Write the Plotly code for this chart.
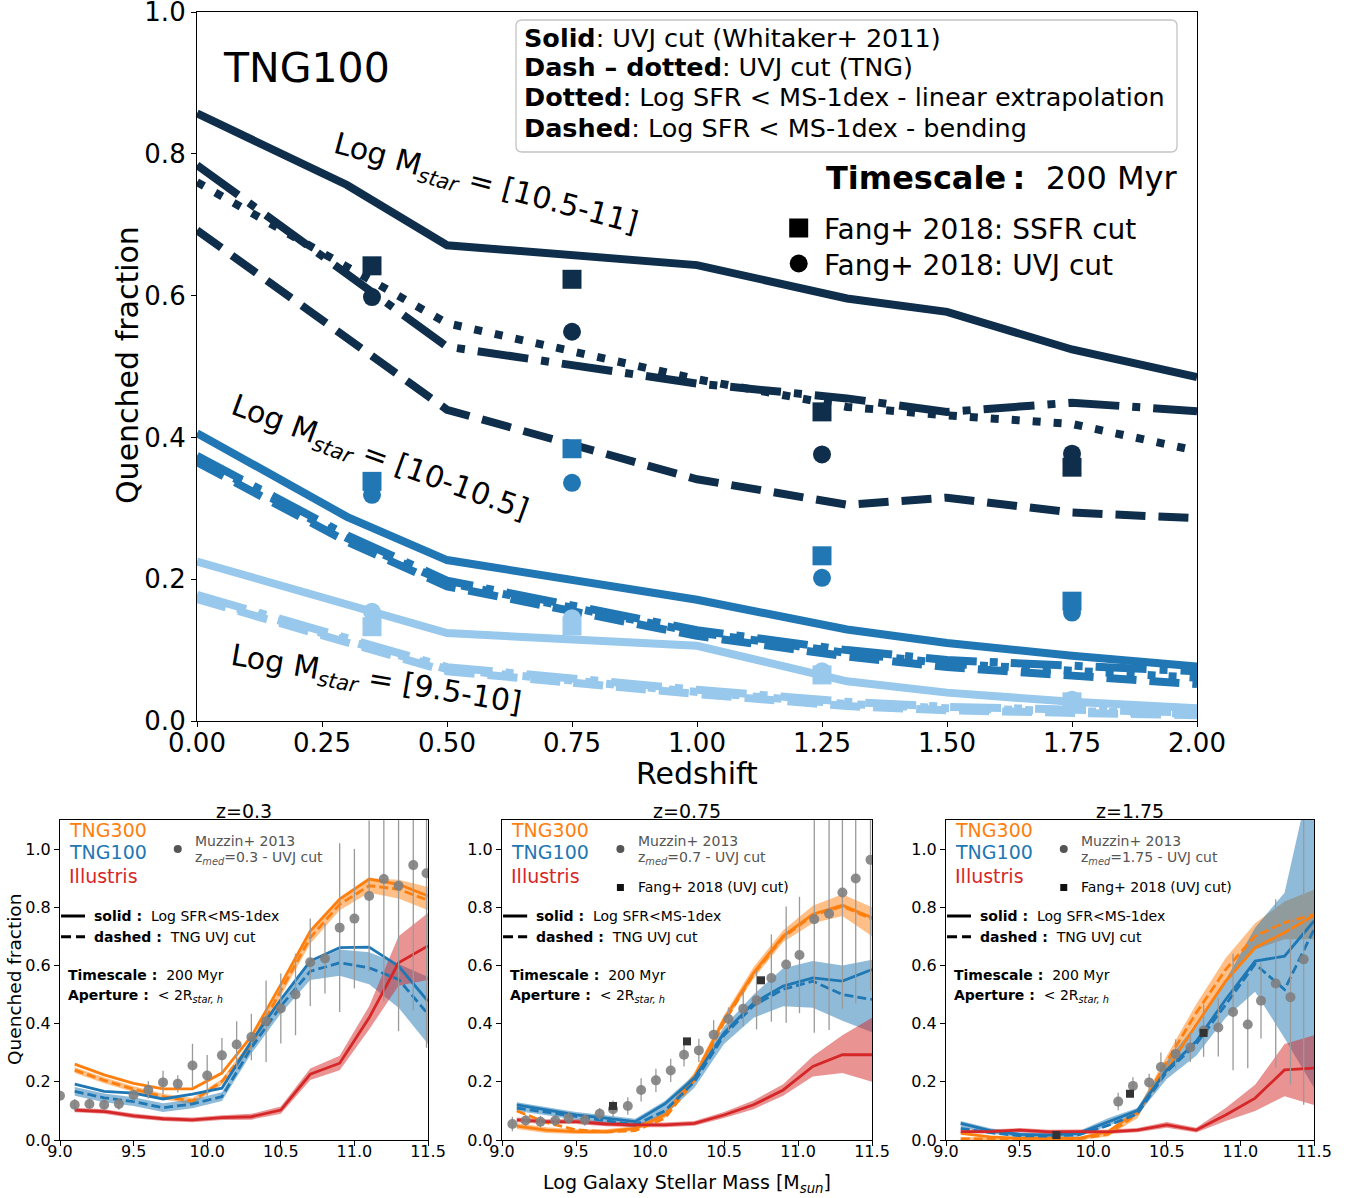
import plotly.graph_objects as go

W, H = 1358, 1198

# ---------------- main panel data (TNG100, quenched fraction vs redshift) ----------------
redshift = [0.0, 0.3, 0.5, 1.0, 1.3, 1.5, 1.75, 2.0]

hi_solid = [0.857, 0.756, 0.671, 0.643, 0.596, 0.577, 0.524, 0.485]
hi_dashdot = [0.784, 0.630, 0.528, 0.476, 0.455, 0.436, 0.449, 0.437]
hi_dotted = [0.760, 0.641, 0.561, 0.482, 0.443, 0.431, 0.419, 0.381]
hi_dashed = [0.692, 0.540, 0.439, 0.341, 0.305, 0.315, 0.294, 0.286]

mid_solid = [0.406, 0.288, 0.227, 0.171, 0.129, 0.110, 0.092, 0.077]
mid_dashdot = [0.374, 0.262, 0.198, 0.128, 0.100, 0.086, 0.078, 0.070]
mid_dotted = [0.370, 0.258, 0.195, 0.125, 0.096, 0.081, 0.071, 0.061]
mid_dashed = [0.365, 0.253, 0.190, 0.120, 0.091, 0.076, 0.064, 0.052]

lo_solid = [0.225, 0.164, 0.124, 0.106, 0.056, 0.040, 0.027, 0.018]
lo_dashdot = [0.178, 0.117, 0.076, 0.044, 0.027, 0.020, 0.016, 0.012]
lo_dotted = [0.175, 0.114, 0.073, 0.041, 0.024, 0.018, 0.013, 0.010]
lo_dashed = [0.172, 0.110, 0.070, 0.038, 0.021, 0.015, 0.011, 0.008]

fang_z = [0.35, 0.75, 1.25, 1.75]
hi_fang_ssfr = [0.642, 0.623, 0.436, 0.358]
hi_fang_uvj = [0.598, 0.549, 0.376, 0.377]
mid_fang_ssfr = [0.338, 0.384, 0.233, 0.169]
mid_fang_uvj = [0.319, 0.336, 0.202, 0.153]
lo_fang_ssfr = [0.133, 0.134, 0.065, 0.027]
lo_fang_uvj = [0.154, 0.145, 0.070, 0.030]

redshift_ticks = [0.0, 0.25, 0.5, 0.75, 1.0, 1.25, 1.5, 1.75, 2.0]
fraction_ticks = [0.0, 0.2, 0.4, 0.6, 0.8, 1.0]
mass_ticks = [9.0, 9.5, 10.0, 10.5, 11.0, 11.5]

# ---------------- bottom panels data (quenched fraction vs stellar mass) ----------------
mass = [9.1, 9.3, 9.5, 9.7, 9.9, 10.1, 10.3, 10.5, 10.7, 10.9, 11.1, 11.3, 11.5]

# z = 0.3
tng300_sfr_z03 = [0.261, 0.224, 0.195, 0.176, 0.176, 0.230, 0.356, 0.534, 0.718, 0.828, 0.897, 0.879, 0.839]
tng300_uvj_z03 = [0.240, 0.205, 0.175, 0.149, 0.134, 0.201, 0.330, 0.510, 0.695, 0.810, 0.874, 0.862, 0.824]
tng300_lo_z03 = [0.230, 0.195, 0.165, 0.139, 0.124, 0.190, 0.315, 0.495, 0.675, 0.790, 0.850, 0.830, 0.790]
tng300_hi_z03 = [0.250, 0.215, 0.185, 0.159, 0.144, 0.210, 0.345, 0.525, 0.715, 0.830, 0.900, 0.895, 0.870]
tng100_sfr_z03 = [0.192, 0.167, 0.161, 0.141, 0.158, 0.178, 0.339, 0.483, 0.615, 0.661, 0.663, 0.598, 0.477]
tng100_uvj_z03 = [0.167, 0.145, 0.132, 0.111, 0.124, 0.149, 0.317, 0.460, 0.580, 0.609, 0.592, 0.552, 0.433]
tng100_lo_z03 = [0.152, 0.130, 0.117, 0.096, 0.109, 0.134, 0.297, 0.435, 0.550, 0.565, 0.535, 0.455, 0.330]
tng100_hi_z03 = [0.182, 0.160, 0.147, 0.126, 0.139, 0.164, 0.337, 0.485, 0.610, 0.655, 0.645, 0.605, 0.560]
ill_sfr_z03 = [0.103, 0.098, 0.083, 0.073, 0.069, 0.077, 0.080, 0.103, 0.226, 0.264, 0.420, 0.609, 0.667]
ill_lo_z03 = [0.095, 0.090, 0.075, 0.065, 0.061, 0.069, 0.070, 0.090, 0.206, 0.240, 0.380, 0.530, 0.550]
ill_hi_z03 = [0.111, 0.106, 0.091, 0.081, 0.077, 0.085, 0.090, 0.115, 0.246, 0.290, 0.460, 0.700, 0.780]
muzzin_m_z03 = [9.0, 9.1, 9.2, 9.3, 9.4, 9.5, 9.6, 9.7, 9.8, 9.9, 10.0, 10.1, 10.2, 10.3, 10.4,
                10.5, 10.6, 10.7, 10.8, 10.9, 11.0, 11.1, 11.2, 11.3, 11.4, 11.49]
muzzin_f_z03 = [0.152, 0.121, 0.124, 0.121, 0.124, 0.155, 0.172, 0.198, 0.193, 0.256, 0.222, 0.291, 0.328,
                0.354, 0.408, 0.452, 0.500, 0.611, 0.624, 0.730, 0.761, 0.839, 0.897, 0.874, 0.945, 0.917]
muzzin_e_z03 = [0.0, 0.02, 0.02, 0.02, 0.02, 0.02, 0.03, 0.04, 0.03, 0.075, 0.07, 0.06, 0.08, 0.08, 0.14,
                0.12, 0.14, 0.15, 0.12, 0.29, 0.24, 0.26, 0.42, 0.5, 0.5, 0.6]

# z = 0.75
tng300_sfr_z075 = [0.048, 0.034, 0.029, 0.029, 0.040, 0.086, 0.218, 0.414, 0.575, 0.701, 0.776, 0.807, 0.764]
tng300_uvj_z075 = [0.100, 0.060, 0.035, 0.028, 0.032, 0.075, 0.205, 0.405, 0.570, 0.697, 0.772, 0.803, 0.760]
tng300_lo_z075 = [0.038, 0.024, 0.021, 0.021, 0.032, 0.076, 0.203, 0.399, 0.555, 0.681, 0.745, 0.770, 0.700]
tng300_hi_z075 = [0.058, 0.044, 0.037, 0.037, 0.048, 0.096, 0.233, 0.429, 0.595, 0.721, 0.805, 0.845, 0.800]
tng100_sfr_z075 = [0.121, 0.103, 0.086, 0.075, 0.063, 0.124, 0.213, 0.368, 0.471, 0.529, 0.557, 0.546, 0.586]
tng100_uvj_z075 = [0.110, 0.095, 0.080, 0.065, 0.052, 0.100, 0.200, 0.360, 0.462, 0.518, 0.546, 0.500, 0.483]
tng100_lo_z075 = [0.100, 0.085, 0.070, 0.055, 0.042, 0.085, 0.180, 0.330, 0.420, 0.460, 0.455, 0.410, 0.370]
tng100_hi_z075 = [0.130, 0.113, 0.096, 0.085, 0.073, 0.134, 0.225, 0.390, 0.500, 0.590, 0.615, 0.600, 0.620]
ill_sfr_z075 = [0.069, 0.063, 0.063, 0.055, 0.052, 0.052, 0.057, 0.086, 0.121, 0.172, 0.253, 0.293, 0.293]
ill_lo_z075 = [0.061, 0.055, 0.055, 0.047, 0.044, 0.044, 0.049, 0.076, 0.106, 0.152, 0.218, 0.230, 0.200]
ill_hi_z075 = [0.077, 0.071, 0.071, 0.063, 0.060, 0.060, 0.065, 0.096, 0.136, 0.192, 0.288, 0.360, 0.420]
muzzin_m_z075 = [9.07, 9.16, 9.26, 9.36, 9.45, 9.56, 9.66, 9.75, 9.85, 9.94, 10.04, 10.14, 10.23, 10.33,
                 10.43, 10.53, 10.63, 10.72, 10.82, 10.92, 11.01, 11.11, 11.21, 11.30, 11.39, 11.49]
muzzin_f_z075 = [0.055, 0.067, 0.063, 0.067, 0.075, 0.069, 0.090, 0.106, 0.117, 0.172, 0.205, 0.239, 0.293,
                 0.308, 0.362, 0.416, 0.451, 0.480, 0.557, 0.603, 0.636, 0.759, 0.778, 0.851, 0.899, 0.963]
muzzin_e_z075 = [0.025, 0.02, 0.02, 0.02, 0.02, 0.02, 0.02, 0.03, 0.03, 0.04, 0.04, 0.04, 0.04, 0.04, 0.05,
                 0.04, 0.06, 0.1, 0.15, 0.2, 0.2, 0.39, 0.4, 0.4, 0.43, 0.45]
fang_m_z075 = [9.75, 10.25, 10.75]
fang_f_z075 = [0.117, 0.339, 0.549]

# z = 1.75
tng300_sfr_z175 = [0.023, 0.011, 0.006, 0.006, 0.006, 0.029, 0.098, 0.241, 0.397, 0.546, 0.661, 0.713, 0.772]
tng300_uvj_z175 = [0.004, 0.003, 0.002, 0.002, 0.003, 0.020, 0.090, 0.270, 0.437, 0.586, 0.701, 0.747, 0.775]
tng300_lo_z175 = [0.000, 0.000, 0.000, 0.000, 0.000, 0.012, 0.075, 0.250, 0.407, 0.546, 0.655, 0.690, 0.690]
tng300_hi_z175 = [0.010, 0.008, 0.007, 0.007, 0.008, 0.030, 0.105, 0.290, 0.467, 0.626, 0.745, 0.820, 0.860]
tng100_sfr_z175 = [0.057, 0.032, 0.019, 0.017, 0.023, 0.063, 0.101, 0.241, 0.339, 0.483, 0.615, 0.632, 0.753]
tng100_uvj_z175 = [0.040, 0.025, 0.015, 0.013, 0.018, 0.050, 0.090, 0.235, 0.330, 0.465, 0.605, 0.517, 0.724]
tng100_lo_z175 = [0.045, 0.022, 0.010, 0.008, 0.012, 0.048, 0.085, 0.210, 0.290, 0.420, 0.510, 0.350, 0.180]
tng100_hi_z175 = [0.065, 0.040, 0.026, 0.024, 0.030, 0.075, 0.110, 0.270, 0.400, 0.550, 0.730, 0.850, 1.300]
ill_sfr_z175 = [0.029, 0.029, 0.034, 0.028, 0.029, 0.028, 0.034, 0.052, 0.034, 0.086, 0.144, 0.241, 0.247]
ill_lo_z175 = [0.022, 0.022, 0.027, 0.021, 0.022, 0.021, 0.027, 0.042, 0.026, 0.065, 0.100, 0.150, 0.120]
ill_hi_z175 = [0.036, 0.036, 0.041, 0.035, 0.036, 0.035, 0.041, 0.062, 0.042, 0.110, 0.190, 0.330, 0.360]
muzzin_m_z175 = [10.17, 10.27, 10.38, 10.46, 10.56, 10.66, 10.75, 10.85, 10.95, 11.05, 11.14, 11.24, 11.34, 11.43]
muzzin_f_z175 = [0.132, 0.186, 0.198, 0.251, 0.296, 0.318, 0.376, 0.387, 0.440, 0.397, 0.479, 0.538, 0.491, 0.621]
muzzin_e_z175 = [0.03, 0.03, 0.03, 0.05, 0.05, 0.05, 0.09, 0.1, 0.2, 0.15, 0.13, 0.29, 0.3, 0.5]
fang_m_z175 = [9.75, 10.25, 10.75]
fang_f_z175 = [0.017, 0.159, 0.368]

# ---------------- styling ----------------
C_HI, C_MID, C_LO = "#0e2e4b", "#2176b4", "#98c8ec"
ORANGE, BLUE, RED = "#ff7f0e", "#1f77b4", "#d62728"
LW = 8
DASH = {"solid": "solid", "dashdot": "51px,13px,8px,13px", "dotted": "8px,13px", "dashed": "30px,13px"}
FONT = "DejaVu Sans"

fig = go.Figure()


def px_x(px):
    return px / W


def px_y(py):
    return 1 - py / H


# main panel lines
groups = [
    (C_HI, hi_solid, hi_dashdot, hi_dotted, hi_dashed, hi_fang_ssfr, hi_fang_uvj),
    (C_MID, mid_solid, mid_dashdot, mid_dotted, mid_dashed, mid_fang_ssfr, mid_fang_uvj),
    (C_LO, lo_solid, lo_dashdot, lo_dotted, lo_dashed, lo_fang_ssfr, lo_fang_uvj),
]
for col, s, dd, dt, ds, fs, fu in groups:
    for vals, key in [(s, "solid"), (dd, "dashdot"), (dt, "dotted"), (ds, "dashed")]:
        fig.add_trace(go.Scatter(x=redshift, y=vals, mode="lines", xaxis="x", yaxis="y",
                                 line=dict(color=col, width=LW, dash=DASH[key])))
for col, s, dd, dt, ds, fs, fu in groups:
    fig.add_trace(go.Scatter(x=fang_z, y=fu, mode="markers", xaxis="x", yaxis="y",
                             marker=dict(symbol="circle", size=18, color=col)))
    fig.add_trace(go.Scatter(x=fang_z, y=fs, mode="markers", xaxis="x", yaxis="y",
                             marker=dict(symbol="square", size=19, color=col)))

# legend markers (main)
fig.add_trace(go.Scatter(x=[(798.7 - 197) / 500], y=[(721 - 228) / 709], mode="markers",
                         xaxis="x", yaxis="y", marker=dict(symbol="square", size=19, color="black")))
fig.add_trace(go.Scatter(x=[(798.7 - 197) / 500], y=[(721 - 263.5) / 709], mode="markers",
                         xaxis="x", yaxis="y", marker=dict(symbol="circle", size=18, color="black")))

annotations = []


def ann(text, x, y, size, xref="paper", yref="paper", color="black", xanchor="left",
        yanchor="middle", angle=0):
    annotations.append(dict(text=text, x=x, y=y, xref=xref, yref=yref, showarrow=False,
                            font=dict(family=FONT, size=size, color=color),
                            xanchor=xanchor, yanchor=yanchor, textangle=angle))


# main panel texts
ann("TNG100", px_x(221), px_y(68), 41)
ann("<b>Solid</b>: UVJ cut (Whitaker+ 2011)", px_x(522), px_y(38), 25.5)
ann("<b>Dash \u2013 dotted</b>: UVJ cut (TNG)", px_x(522), px_y(67), 25.5)
ann("<b>Dotted</b>: Log SFR &lt; MS-1dex - linear extrapolation", px_x(522), px_y(97), 25.5)
ann("<b>Dashed</b>: Log SFR &lt; MS-1dex - bending", px_x(522), px_y(128), 25.5)
ann("<b>Timescale\u2009:</b>  200 Myr", px_x(824), px_y(178), 32)
ann("Fang+ 2018: SSFR cut", px_x(822), px_y(229), 28)
ann("Fang+ 2018: UVJ cut", px_x(822), px_y(265), 28)
ann("Log M<sub><i>star</i></sub> = [10.5-11]", 0.576, 0.756, 30, "x", "y", xanchor="center", angle=15)
ann("Log M<sub><i>star</i></sub> = [10-10.5]", 0.364, 0.370, 30, "x", "y", xanchor="center", angle=20)
ann("Log M<sub><i>star</i></sub> = [9.5-10]", 0.358, 0.057, 30, "x", "y", xanchor="center", angle=9.5)
ann("Redshift", px_x(697), px_y(773), 30, xanchor="center")
ann("Quenched fraction", px_x(127), px_y(365), 30, xanchor="center", angle=-90)

# bottom panels
panels = [
    ("x2", "y2", "z=0.3", "0.3",
     (tng300_sfr_z03, tng300_uvj_z03, tng300_lo_z03, tng300_hi_z03),
     (tng100_sfr_z03, tng100_uvj_z03, tng100_lo_z03, tng100_hi_z03),
     (ill_sfr_z03, ill_lo_z03, ill_hi_z03),
     (muzzin_m_z03, muzzin_f_z03, muzzin_e_z03), None),
    ("x3", "y3", "z=0.75", "0.7",
     (tng300_sfr_z075, tng300_uvj_z075, tng300_lo_z075, tng300_hi_z075),
     (tng100_sfr_z075, tng100_uvj_z075, tng100_lo_z075, tng100_hi_z075),
     (ill_sfr_z075, ill_lo_z075, ill_hi_z075),
     (muzzin_m_z075, muzzin_f_z075, muzzin_e_z075), (fang_m_z075, fang_f_z075)),
    ("x4", "y4", "z=1.75", "1.75",
     (tng300_sfr_z175, tng300_uvj_z175, tng300_lo_z175, tng300_hi_z175),
     (tng100_sfr_z175, tng100_uvj_z175, tng100_lo_z175, tng100_hi_z175),
     (ill_sfr_z175, ill_lo_z175, ill_hi_z175),
     (muzzin_m_z175, muzzin_f_z175, muzzin_e_z175), (fang_m_z175, fang_f_z175)),
]

band_rgba = {ORANGE: "rgba(255,127,14,0.5)", BLUE: "rgba(31,119,180,0.5)", RED: "rgba(214,39,40,0.5)"}
SDASH = "9px,4px"
shapes = []

for xr, yr, title, zmed, t300, t100, ill, muz, fang in panels:
    # bands
    for col, lo, hi in [(ORANGE, t300[2], t300[3]), (BLUE, t100[2], t100[3]), (RED, ill[1], ill[2])]:
        fig.add_trace(go.Scatter(x=mass + mass[::-1], y=hi + lo[::-1], fill="toself", mode="lines",
                                 line=dict(width=0), fillcolor=band_rgba[col], xaxis=xr, yaxis=yr))
    # lines
    fig.add_trace(go.Scatter(x=mass, y=t300[1], mode="lines", xaxis=xr, yaxis=yr,
                             line=dict(color=ORANGE, width=2.8, dash=SDASH)))
    fig.add_trace(go.Scatter(x=mass, y=t300[0], mode="lines", xaxis=xr, yaxis=yr,
                             line=dict(color=ORANGE, width=2.8)))
    fig.add_trace(go.Scatter(x=mass, y=t100[1], mode="lines", xaxis=xr, yaxis=yr,
                             line=dict(color=BLUE, width=2.8, dash=SDASH)))
    fig.add_trace(go.Scatter(x=mass, y=t100[0], mode="lines", xaxis=xr, yaxis=yr,
                             line=dict(color=BLUE, width=2.8)))
    fig.add_trace(go.Scatter(x=mass, y=ill[0], mode="lines", xaxis=xr, yaxis=yr,
                             line=dict(color=RED, width=2.8)))
    # Muzzin points
    fig.add_trace(go.Scatter(x=muz[0], y=muz[1], mode="markers", xaxis=xr, yaxis=yr,
                             marker=dict(size=10, color="rgba(128,128,128,0.9)"),
                             error_y=dict(type="data", array=muz[2], color="#9a9a9a",
                                          thickness=1.3, width=0)))
    if fang is not None:
        fig.add_trace(go.Scatter(x=fang[0], y=fang[1], mode="markers", xaxis=xr, yaxis=yr,
                                 marker=dict(symbol="square", size=8, color="#333333")))
        fig.add_trace(go.Scatter(x=[9.8], y=[0.868], mode="markers", xaxis=xr, yaxis=yr,
                                 marker=dict(symbol="square", size=7, color="#111111")))
        ann("Fang+ 2018 (UVJ cut)", 9.905, 0.868, 14, xr, yr)
    # legend-ish
    fig.add_trace(go.Scatter(x=[9.8], y=[1.0], mode="markers", xaxis=xr, yaxis=yr,
                             marker=dict(size=8, color="#555555")))
    ann("Muzzin+ 2013", 9.905, 1.027, 14, xr, yr, color="#555555")
    ann("z<sub><i>med</i></sub>=" + zmed + " - UVJ cut", 9.905, 0.968, 14, xr, yr, color="#555555")
    ann("TNG300", 9.045, 1.067, 19, xr, yr, color=ORANGE)
    ann("TNG100", 9.045, 0.989, 19, xr, yr, color=BLUE)
    ann("Illustris", 9.045, 0.906, 19, xr, yr, color=RED)
    shapes.append(dict(type="line", xref=xr, yref=yr, x0=9.007, x1=9.17, y0=0.770, y1=0.770,
                       line=dict(color="black", width=3)))
    shapes.append(dict(type="line", xref=xr, yref=yr, x0=9.007, x1=9.17, y0=0.699, y1=0.699,
                       line=dict(color="black", width=3, dash="10px,5px")))
    ann("<b>solid :</b>  Log SFR&lt;MS-1dex", 9.215, 0.770, 14, xr, yr)
    ann("<b>dashed :</b>  TNG UVJ cut", 9.215, 0.699, 14, xr, yr)
    ann("<b>Timescale :</b>  200 Myr", 9.04, 0.567, 14, xr, yr)
    ann("<b>Aperture :</b>  &lt; 2R<sub><i>star, h</i></sub>", 9.04, 0.494, 14, xr, yr)

ann("z=0.3", px_x(244), px_y(811), 19, xanchor="center")
ann("z=0.75", px_x(687), px_y(811), 19, xanchor="center")
ann("z=1.75", px_x(1130), px_y(811), 19, xanchor="center")
ann("Quenched fraction", px_x(15), px_y(980), 18.5, xanchor="center", angle=-90)
ann("Log Galaxy Stellar Mass [M<sub><i>sun</i></sub>]", px_x(687), px_y(1183), 19, xanchor="center")

# rounded legend box in main panel
x0, x1 = px_x(516), px_x(1177)
yb, yt = px_y(152), px_y(20)
rx, ry = 6 / W, 6 / H
path = (f"M {x0+rx},{yt} L {x1-rx},{yt} Q {x1},{yt} {x1},{yt-ry} L {x1},{yb+ry} "
        f"Q {x1},{yb} {x1-rx},{yb} L {x0+rx},{yb} Q {x0},{yb} {x0},{yb+ry} "
        f"L {x0},{yt-ry} Q {x0},{yt} {x0+rx},{yt} Z")
shapes.append(dict(type="path", xref="paper", yref="paper", path=path,
                   line=dict(color="#c4c4c4", width=1.3), fillcolor="rgba(255,255,255,0.85)",
                   layer="above"))

axis_common = dict(showline=True, linecolor="black", linewidth=1.2, mirror=True, ticks="outside",
                   ticklen=5, tickwidth=1.2, tickcolor="black", showgrid=False, zeroline=False,
                   automargin=False, ticklabeloverflow="allow")

layout = dict(
    width=W, height=H, margin=dict(l=0, r=0, t=0, b=0, pad=0, autoexpand=False), autosize=False,
    paper_bgcolor="white", plot_bgcolor="white", showlegend=False,
    font=dict(family=FONT, color="black"),
    xaxis=dict(domain=[px_x(197), px_x(1197)], anchor="y", range=[0, 2], tickvals=redshift_ticks,
               tickformat=".2f", tickfont=dict(size=26), ticklabelstandoff=-6, **axis_common),
    yaxis=dict(domain=[px_y(721), px_y(12)], anchor="x", range=[0, 1], tickvals=fraction_ticks,
               tickformat=".1f", tickfont=dict(size=26), **axis_common),
)
for i, (l, r) in zip([2, 3, 4], [(60, 428), (502, 872), (946, 1314)]):
    layout[f"xaxis{i}"] = dict(domain=[px_x(l), px_x(r)], anchor=f"y{i}", range=[9.0, 11.5],
                               tickvals=mass_ticks, tickformat=".1f", tickfont=dict(size=16),
                               ticklabelstandoff=-8, **axis_common)
    layout[f"yaxis{i}"] = dict(domain=[px_y(1140), px_y(820)], anchor=f"x{i}", range=[0, 1.1],
                               tickvals=fraction_ticks, tickformat=".1f",
                               tickfont=dict(size=16), **axis_common)

fig.update_layout(**layout)
fig.update_layout(annotations=annotations, shapes=shapes)
fig.write_html("out.html")
